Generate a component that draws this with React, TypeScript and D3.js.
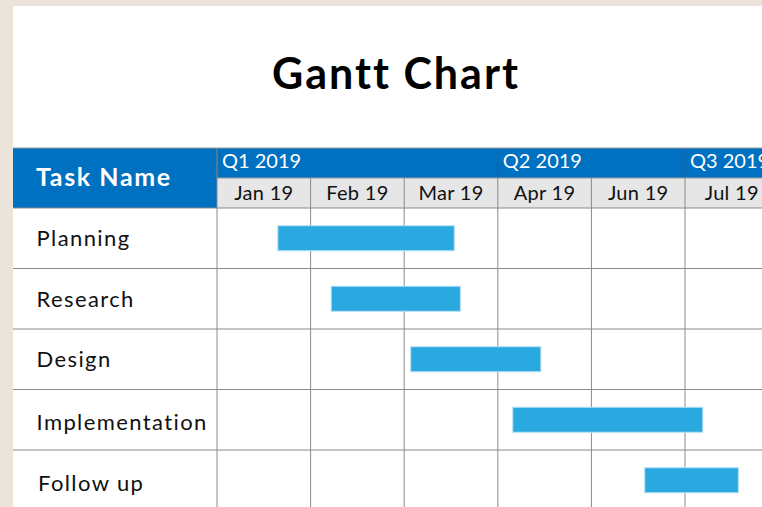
import React from "react";
import * as d3 from "d3";

const tasks = ["Planning", "Research", "Design", "Implementation", "Follow up"];
const taskStart = [0.65, 1.22, 2.07, 3.16, 4.57];
const taskEnd = [2.535, 2.6, 3.46, 5.19, 5.57];
const months = ["Jan 19", "Feb 19", "Mar 19", "Apr 19", "Jun 19", "Jul 19"];
const quarters = ["Q1 2019", "Q2 2019", "Q3 2019"];
const quarterStart = [0, 3, 5];
const quarterEnd = [3, 5, 7];

const W = 762;
const H = 507;
const FONT = "Lato, 'Open Sans', sans-serif";

export default function App() {
  const panelX = 13;
  const panelY = 6;
  const headerTop = 148;
  const qBottom = 178;
  const headerBottom = 208;
  const gridLeft = 217;
  const colW = 93.6;

  const x = d3.scaleLinear().domain([0, months.length]).range([gridLeft, gridLeft + colW * months.length]);
  const y = d3.scaleBand().domain(tasks).range([headerBottom, headerBottom + 60.5 * tasks.length]);
  const barH = 25;
  const colEdges = d3.range(months.length + 1);
  const labelDy = (i: number) => (i >= 3 ? 10.5 : 8);

  return (
    <svg width={W} height={H} style={{ position: "absolute", left: 0, top: 0 }} fontFamily={FONT}>
      <rect x={0} y={0} width={W} height={H} fill="#ece4da" />
      <rect x={panelX} y={panelY} width={W} height={H} fill="#ffffff" />
      <text x={396} y={89} textAnchor="middle" fontSize={43} fontWeight={700} fill="#000" letterSpacing={2}>
        Gantt Chart
      </text>

      {/* Task Name header */}
      <rect x={panelX} y={headerTop} width={gridLeft - panelX} height={headerBottom - headerTop} fill="#0070c0" />
      <text x={36} y={186} fontSize={25} fontWeight={700} fill="#fff" letterSpacing={1.6}>Task Name</text>

      {/* Quarter row */}
      <rect x={gridLeft} y={headerTop} width={W - gridLeft} height={qBottom - headerTop} fill="#0070c0" />
      {quarters.map((q, i) => (
        <g key={q}>
          <line x1={x(quarterStart[i])} x2={x(quarterStart[i])} y1={headerTop} y2={qBottom} stroke="#2a5f8f" strokeWidth={1} />
          <text x={x(quarterStart[i]) + 5} y={168} fontSize={20} fill="#fff">{q}</text>
        </g>
      ))}

      {/* Month row */}
      <rect x={gridLeft} y={qBottom} width={W - gridLeft} height={headerBottom - qBottom} fill="#e6e6e6" />
      {months.map((m, i) => (
        <text key={m} x={(x(i) + x(i + 1)) / 2} y={200} textAnchor="middle" fontSize={20} fill="#111" letterSpacing={0.3}>{m}</text>
      ))}
      <line x1={panelX} x2={W} y1={headerTop} y2={headerTop} stroke="#9a9a9a" strokeWidth={1} />
      <line x1={gridLeft} x2={W} y1={qBottom} y2={qBottom} stroke="#9a9a9a" strokeWidth={1} />

      {/* grid */}
      {colEdges.map((c) => (
        <line key={"c" + c} x1={x(c)} x2={x(c)} y1={c === 0 ? headerTop : qBottom} y2={H} stroke="#8a8a8a" strokeWidth={1} />
      ))}
      {tasks.map((t) => (
        <line key={"r" + t} x1={panelX} x2={W} y1={(y(t) as number) + y.bandwidth()} y2={(y(t) as number) + y.bandwidth()} stroke="#8a8a8a" strokeWidth={1} />
      ))}
      <line x1={panelX} x2={W} y1={headerBottom} y2={headerBottom} stroke="#8a8a8a" strokeWidth={1} />

      {/* labels & bars */}
      {tasks.map((t, i) => {
        const cy = (y(t) as number) + y.bandwidth() / 2;
        return (
          <g key={t}>
            <text x={i === 4 ? 38 : 36.5} y={cy + labelDy(i)} fontSize={22} fill="#111" letterSpacing={1.4}>{t}</text>
            <rect
              x={x(taskStart[i])}
              y={cy - barH / 2}
              width={x(taskEnd[i]) - x(taskStart[i])}
              height={barH}
              fill="#29a9e0"
              stroke="#b5e0f4"
              strokeWidth={1}
            />
          </g>
        );
      })}
    </svg>
  );
}
